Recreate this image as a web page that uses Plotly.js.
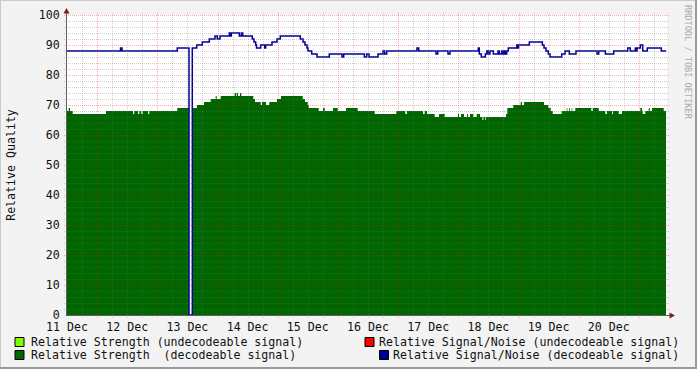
<!DOCTYPE html>
<html><head><meta charset="utf-8">
<script src="https://cdn.plot.ly/plotly-3.0.1.min.js"></script>
<style>html,body{margin:0;padding:0;background:#f3f3f3;} #chart{width:697px;height:369px;}</style>
</head><body><div id="chart"></div>
<script>
// ---- data (hours since 11 Dec 00:00) ----
const dayLabels = ['11 Dec','12 Dec','13 Dec','14 Dec','15 Dec','16 Dec','17 Dec','18 Dec','19 Dec','20 Dec'];

const snrHours = [0,21.33,21.93,43.97,48.64,49.95,51.71,53.94,56.73,59.00,59.92,61.00,64.70,65.10,65.50,68.69,69.49,70.05,73.87,74.55,75.23,75.55,77.22,78.82,79.21,81.73,83.72,85.04,93.01,94.09,94.88,95.68,96.08,97.55,99.67,104.57,109.63,110.31,118.53,119.48,120.40,123.99,125.98,126.66,127.46,139.53,140.21,147.11,147.79,151.89,152.69,163.97,164.37,165.17,166.77,167.32,167.96,168.64,169.96,171.83,172.35,173.30,173.82,174.42,174.82,175.30,175.94,179.28,179.60,180.00,184.31,189.49,190.17,190.96,191.88,192.56,197.22,198.54,200.25,202.92,211.30,211.97,214.61,217.95,223.53,224.57,226.57,226.85,227.24,228.56,229.52,231.35,236.93,238.80];
const snrValues = [88,89,88,89,0,89,90,91,92,93,92,93,94,93,94,93,94,93,92,91,90,89,90,89,90,91,92,93,92,91,90,89,88,87,86,87,86,87,86,87,86,87,88,87,88,89,88,87,88,87,88,89,87,86,87,88,87,88,87,88,87,88,87,88,87,88,89,90,89,90,91,90,89,88,87,86,87,88,87,88,87,88,87,88,89,88,89,88,89,90,88,89,88,88];

const strengthHours = [0,0.68,1.20,2.27,15.55,26.31,26.83,28.31,28.82,29.62,30.18,32.29,32.81,43.97,48.64,49.95,51.83,54.62,57.29,59.28,59.68,61.28,66.86,67.38,67.66,68.17,68.97,69.49,74.27,74.95,77.22,77.74,79.34,80.65,83.72,85.32,93.97,94.88,95.96,96.36,100.35,102.06,102.74,106.05,107.92,111.23,115.90,122.67,131.28,134.87,135.55,141.93,142.61,143.52,146.59,148.31,150.58,155.88,156.28,157.08,158.27,159.47,159.87,160.67,161.98,163.34,164.65,165.57,165.97,166.77,167.04,175.02,175.54,177.93,180.88,181.40,182.20,190.17,191.88,192.84,193.64,197.22,199.22,199.46,200.25,200.53,201.21,201.45,202.65,209.03,209.59,211.97,214.61,215.28,217.28,217.67,219.95,221.26,228.56,229.24,229.52,230.56,231.91,232.31,233.23,237.89,238.80];
const strengthValues = [68,69,68,67,68,67,68,67,68,67,68,67,68,69,0,69,70,71,72,73,72,73,74,73,74,73,74,73,72,71,70,71,70,71,72,73,72,71,70,69,68,69,68,69,68,69,68,67,68,67,68,67,68,67,66,67,66,67,66,67,66,67,66,67,66,67,66,65,66,65,66,67,69,70,71,70,71,70,69,68,67,68,69,68,69,68,69,68,69,68,69,68,67,68,67,68,67,68,69,68,67,68,69,68,69,68,68];

const legendLabels = [
  'Relative Strength (undecodeable signal)',
  'Relative Signal/Noise (undecodeable signal)',
  'Relative Strength\u00a0 (decodeable signal)',
  'Relative Signal/Noise (decodeable signal)'
];
const legendColors = ['#80ff00','#ff0000','#006600','#000099'];
const yLabel = 'Relative Quality';
const watermark = 'RRDTOOL / TOBI OETIKER';

// ---- layout helpers ----
const W = 697, H = 369, L = 67, R = 667, T = 15, B = 315;
const X_MAX = 239.2, Y_MAX = 100;
const px = x => (x - L) / (R - L);
const py = y => (B - y) / (B - T);
const pxPerHour = (R - L) / X_MAX, pxPerUnit = (B - T) / Y_MAX;
// snap a data position onto a pixel centre so 1px dotted lines stay crisp
const snapX = h => (Math.round(L + h * pxPerHour) + 0.5 - L) / pxPerHour;
const snapY = v => (B - (Math.round(B - v * pxPerUnit) + 0.5)) / pxPerUnit;
const MONO = 'DejaVu Sans Mono, monospace';

const traces = [
  {x: strengthHours, y: strengthValues, type: 'scatter', mode: 'lines',
   line: {shape: 'hv', width: 0, color: '#006600'}, fill: 'tozeroy', fillcolor: '#006600',
   hoverinfo: 'skip', showlegend: false},
  {x: snrHours, y: snrValues, type: 'scatter', mode: 'lines',
   line: {shape: 'hv', width: 1.5, color: '#000099'}, hoverinfo: 'skip', showlegend: false}
];

const shapes = [];
const GREY = 'rgba(110,110,110,0.32)', RED = 'rgba(255,0,0,0.32)';
for (let h = 6; h < X_MAX; h += 6) {
  const major = h % 24 === 12;
  const xs = snapX(h);
  shapes.push({type: 'line', xref: 'x', yref: 'paper', x0: xs, x1: xs, y0: py(318), y1: py(13),
    line: {color: major ? RED : GREY, width: 1, dash: '1px,1px'}, layer: 'above'});
}
for (let v = 2; v <= 100; v += 2) {
  const major = v % 10 === 0;
  const ys = snapY(v);
  shapes.push({type: 'line', xref: 'paper', yref: 'y', x0: px(64), x1: px(670), y0: ys, y1: ys,
    line: {color: major ? RED : GREY, width: 1, dash: '1px,1px'}, layer: 'above'});
}
// axis lines & arrows
shapes.push({type: 'line', xref: 'paper', yref: 'paper', x0: px(66.5), x1: px(66.5), y0: py(315), y1: py(12),
  line: {color: '#606060', width: 1}, layer: 'above'});
shapes.push({type: 'line', xref: 'paper', yref: 'paper', x0: px(66), x1: px(671), y0: py(315.5), y1: py(315.5),
  line: {color: '#606060', width: 1}, layer: 'above'});
shapes.push({type: 'path', xref: 'paper', yref: 'paper',
  path: `M ${px(63.5)} ${py(13.5)} L ${px(69.5)} ${py(13.5)} L ${px(66.5)} ${py(8)} Z`,
  fillcolor: '#7f1f1f', line: {width: 0}, layer: 'above'});
shapes.push({type: 'path', xref: 'paper', yref: 'paper',
  path: `M ${px(669.5)} ${py(312.5)} L ${px(669.5)} ${py(318.5)} L ${px(675)} ${py(315.5)} Z`,
  fillcolor: '#7f1f1f', line: {width: 0}, layer: 'above'});
// frame shading
shapes.push({type: 'line', xref: 'paper', yref: 'paper', x0: px(0), x1: px(697), y0: py(0.5), y1: py(0.5), line: {color: '#cbcbcb', width: 1}});
shapes.push({type: 'line', xref: 'paper', yref: 'paper', x0: px(0.5), x1: px(0.5), y0: py(0), y1: py(369), line: {color: '#cbcbcb', width: 1}});
shapes.push({type: 'line', xref: 'paper', yref: 'paper', x0: px(0), x1: px(697), y0: py(368), y1: py(368), line: {color: '#999999', width: 2}});
shapes.push({type: 'line', xref: 'paper', yref: 'paper', x0: px(696), x1: px(696), y0: py(0), y1: py(369), line: {color: '#999999', width: 2}});

// legend squares + text
const legendPos = [
  {sq: [15, 337.5], tx: 28.5, anchor: 'left', ty: 341.5},
  {sq: [365, 337.5], tx: 681, anchor: 'right', ty: 341.5},
  {sq: [15, 350.5], tx: 28.5, anchor: 'left', ty: 355},
  {sq: [379.5, 350.5], tx: 681, anchor: 'right', ty: 355}
];
const annotations = [];
legendLabels.forEach((lab, i) => {
  const p = legendPos[i];
  shapes.push({type: 'rect', xref: 'paper', yref: 'paper',
    x0: px(p.sq[0]), x1: px(p.sq[0] + 9), y0: py(p.sq[1]), y1: py(p.sq[1] + 9),
    fillcolor: legendColors[i], line: {color: '#000', width: 1}});
  annotations.push({xref: 'paper', yref: 'paper', x: px(p.tx), y: py(p.ty),
    xanchor: p.anchor, yanchor: 'middle', showarrow: false, text: lab,
    font: {family: MONO, size: 11.6, color: '#111'}});
});
annotations.push({xref: 'paper', yref: 'paper', x: px(688), y: py(62), xanchor: 'center', yanchor: 'middle',
  showarrow: false, text: watermark, textangle: 90, borderpad: 0, font: {family: MONO, size: 8.6, color: '#aaaaaa'}});

const layout = {
  width: W, height: H,
  margin: {l: L, r: W - R, t: T, b: H - B, pad: 0},
  paper_bgcolor: '#f3f3f3', plot_bgcolor: '#ffffff',
  showlegend: false,
  xaxis: {range: [0, X_MAX], showgrid: false, zeroline: false, showline: false,
    tickmode: 'array', tickvals: dayLabels.map((_, i) => i * 24), ticktext: dayLabels,
    ticks: 'outside', ticklen: 1.5, tickcolor: 'rgba(0,0,0,0)',
    tickfont: {family: MONO, size: 11.6, color: '#111'}, fixedrange: true},
  yaxis: {range: [0, Y_MAX], showgrid: false, zeroline: false, showline: false,
    tickmode: 'linear', tick0: 0, dtick: 10,
    ticks: 'outside', ticklen: 4, tickcolor: 'rgba(0,0,0,0)',
    tickfont: {family: MONO, size: 11.6, color: '#111'},
    title: {text: yLabel, font: {family: MONO, size: 11.6, color: '#111'}, standoff: 20}, fixedrange: true},
  shapes: shapes,
  annotations: annotations
};

Plotly.newPlot('chart', traces, layout, {staticPlot: true, displayModeBar: false});
</script>
</body></html>
